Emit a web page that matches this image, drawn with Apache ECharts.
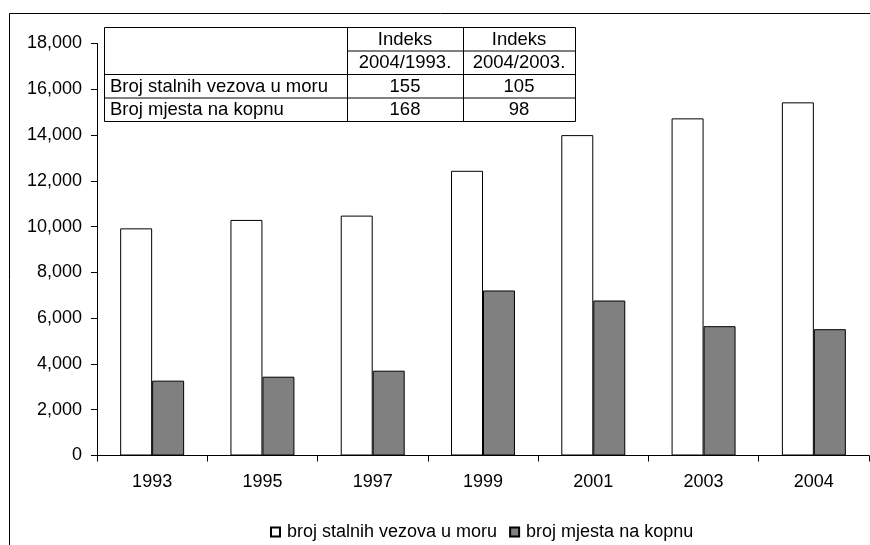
<!DOCTYPE html>
<html><head><meta charset="utf-8">
<script src="https://cdn.jsdelivr.net/npm/echarts@6/dist/echarts.min.js"></script>
<style>html,body{margin:0;padding:0;background:#fff}#c{width:870px;height:545px}</style>
</head><body><div id="c"></div>
<script>
var categories = ['1993','1995','1997','1999','2001','2003','2004'];
var seaBerths = [9924, 10292, 10480, 12438, 13997, 14729, 15429];
var landPlaces = [3270, 3443, 3705, 7209, 6771, 5650, 5518];
var seriesNames = ['broj stalnih vezova u moru', 'broj mjesta na kopnu'];
var tableHeader1 = ['Indeks', 'Indeks'];
var tableHeader2 = ['2004/1993.', '2004/2003.'];
var tableRows = ['Broj stalnih vezova u moru', 'Broj mjesta na kopnu'];
var tableIdx9304 = [155, 168];
var tableIdx0304 = [105, 98];

var font = 'Liberation Sans, Arial, sans-serif';
var chart = echarts.init(document.getElementById('c'));

// table geometry
var xs = [104, 347, 463, 575];
var ys = [27, 50.5, 74, 97.5, 121];
var g = [];
// outer chart border (left/top visible)
g.push({type:'rect', shape:{x:9.5,y:13.5,width:1000,height:1000}, style:{fill:null, stroke:'#000', lineWidth:1}, z:0});
g.push({type:'rect', shape:{x:xs[0]+0.5,y:ys[0]+0.5,width:xs[3]-xs[0],height:ys[4]-ys[0]}, style:{fill:'#fff', stroke:'#000', lineWidth:1}, z:10});
function hl(x1,x2,y){g.push({type:'line', shape:{x1:x1,y1:y+0.5,x2:x2,y2:y+0.5}, style:{stroke:'#000',lineWidth:1}, z:11});}
function vl(x,y1,y2){g.push({type:'line', shape:{x1:x+0.5,y1:y1,x2:x+0.5,y2:y2}, style:{stroke:'#000',lineWidth:1}, z:11});}
hl(xs[1], xs[3], ys[1]);
hl(xs[0], xs[3], ys[2]);
hl(xs[0], xs[3], ys[3]);
vl(xs[1], ys[0], ys[4]);
vl(xs[2], ys[0], ys[4]);
function tx(s,x,y,align){g.push({type:'text', x:x, y:y, style:{text:String(s), font:'18.5px '+font, fill:'#000', align:align||'center', verticalAlign:'middle'}, z:12});}
for (var i=0;i<2;i++){
  tx(tableHeader1[i], (xs[1+i]+xs[2+i])/2, (ys[0]+ys[1])/2+1);
  tx(tableHeader2[i], (xs[1+i]+xs[2+i])/2, (ys[1]+ys[2])/2+1);
}
for (var r=0;r<2;r++){
  var cy=(ys[2+r]+ys[3+r])/2+1;
  tx(tableRows[r], xs[0]+6, cy, 'left');
  tx(tableIdx9304[r], (xs[1]+xs[2])/2, cy);
  tx(tableIdx0304[r], (xs[2]+xs[3])/2, cy);
}

chart.setOption({
  animation:false,
  backgroundColor:'#fff',
  grid:{left:97, top:43.5, right:1, bottom:89.5, containLabel:false},
  legend:{
    left:270, bottom:4, padding:0, itemWidth:9, itemHeight:9, itemGap:12,
    textStyle:{fontFamily:font, fontSize:18, color:'#000', padding:[0,0,0,2]},
    data:[{name:seriesNames[0], icon:'rect'},{name:seriesNames[1], icon:'rect'}]
  },
  xAxis:{
    type:'category', data:categories, boundaryGap:true,
    axisLine:{lineStyle:{color:'#000', width:1}},
    axisTick:{show:true, length:6, lineStyle:{color:'#000'}},
    axisLabel:{fontFamily:font, fontSize:18, color:'#000', margin:18}
  },
  yAxis:{
    type:'value', min:0, max:18000, interval:2000,
    axisLine:{show:true, lineStyle:{color:'#000', width:1}},
    axisTick:{show:true, length:6, lineStyle:{color:'#000'}},
    splitLine:{show:false},
    axisLabel:{fontFamily:font, fontSize:18, color:'#000', margin:15,
      formatter:function(v){return v.toLocaleString('en-US');}}
  },
  series:[
    {name:seriesNames[0], type:'bar', data:seaBerths, barGap:'0%', barCategoryGap:'42%',
     itemStyle:{color:'#ffffff', borderColor:'#000', borderWidth:1}},
    {name:seriesNames[1], type:'bar', data:landPlaces, barGap:'0%', barCategoryGap:'42%',
     itemStyle:{color:'#808080', borderColor:'#000', borderWidth:1}}
  ],
  graphic:g
});
</script></body></html>
